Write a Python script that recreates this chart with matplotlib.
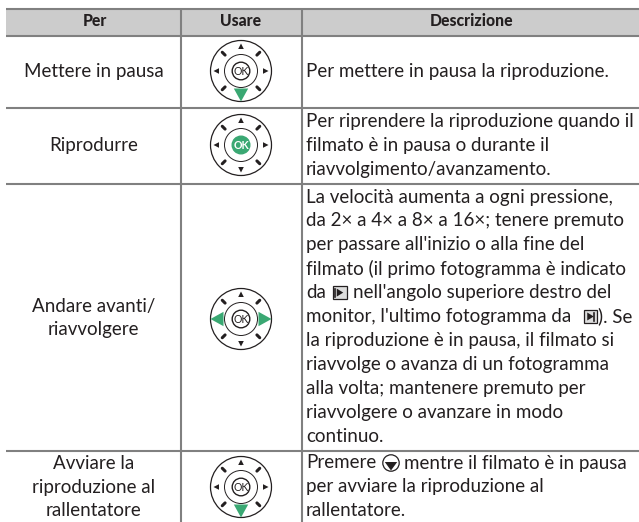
import matplotlib
matplotlib.use("Agg")
import matplotlib.pyplot as plt
from matplotlib.patches import Circle, Polygon, Rectangle
import numpy as np

plt.rcParams['font.family'] = ['Lato', 'DejaVu Sans']

W, H = 639, 522
INK = '#231f20'
GREEN = '#3aa873'
GRID = '#808080'

headers = ['Per', 'Usare', 'Descrizione']
# text of first column, one entry per row, already broken in lines
actions = ['Mettere in pausa', 'Riprodurre', 'Andare avanti/\nriavvolgere',
           'Avviare la\nriproduzione al\nrallentatore']
# which part of the dial is green
highlights = [['down'], ['ok'], ['left', 'right'], ['down']]
desc_row1 = ['Per mettere in pausa la riproduzione.']
desc_row2 = ['Per riprendere la riproduzione quando il',
             'filmato è in pausa o durante il',
             'riavvolgimento/avanzamento.']
desc_row3 = ['La velocità aumenta a ogni pressione,',
             'da 2× a 4× a 8× a 16×; tenere premuto',
             "per passare all'inizio o alla fine del",
             'filmato (il primo fotogramma è indicato',
             None,
             None,
             'la riproduzione è in pausa, il filmato si',
             'riavvolge o avanza di un fotogramma',
             'alla volta; mantenere premuto per',
             'riavvolgere o avanzare in modo',
             'continuo.']
desc_row4 = [None,
             'per avviare la riproduzione al',
             'rallentatore.']
descriptions = [desc_row1, desc_row2, desc_row3, desc_row4]

# layout, in pixels of the picture
row_lines = [8.5, 35.5, 107.7, 184, 450.6]
col_lines = [181, 301.7]
left, right = 6, 639
dial_y = [71, 145, 319, 487]
dial_x = 241
first_line_y = [71.5, 121.5, 197, 463]
line_step = 23.9
FS = 13.5

fig = plt.figure(figsize=(W / 100, H / 100), dpi=100)
ax = fig.add_axes([0, 0, 1, 1])
ax.set_xlim(0, W)
ax.set_ylim(H, 0)
ax.axis('off')


def triangle(cx, cy, direction, near, far, half, color):
    # triangle pointing away from the dial centre
    dx, dy = {'up': (0, -1), 'down': (0, 1), 'left': (-1, 0), 'right': (1, 0)}[direction]
    px, py = -dy, dx
    pts = [(cx + dx * near + px * half, cy + dy * near + py * half),
           (cx + dx * near - px * half, cy + dy * near - py * half),
           (cx + dx * far, cy + dy * far)]
    ax.add_patch(Polygon(pts, closed=True, fc=color, ec='none', zorder=4))


def dial(cx, cy, green):
    ax.add_patch(Circle((cx, cy), 30.5, fc='white', ec=INK, lw=0.9, zorder=3))
    ax.add_patch(Circle((cx, cy), 16.5, fc='white', ec=INK, lw=0.7, zorder=3))
    ok_green = 'ok' in green
    ax.add_patch(Circle((cx, cy), 8.8, fc=GREEN if ok_green else 'white',
                        ec=GREEN if ok_green else INK, lw=1.0, zorder=4))
    ax.text(cx, cy + 0.3, 'OK', ha='center', va='center', fontsize=7.6,
            fontweight='bold' if ok_green else 'normal',
            color='white' if ok_green else INK, zorder=5)
    for d in ['up', 'down', 'left', 'right']:
        if d in green:
            triangle(cx, cy, d, 17.5, 30.5, 7.2, GREEN)
        else:
            triangle(cx, cy, d, 22, 27.5, 2.8, INK)
    for a in [45, 135, 225, 315]:
        c, s = np.cos(np.radians(a)), np.sin(np.radians(a))
        ax.plot([cx + c * 22.5, cx + c * 26.5], [cy + s * 22.5, cy + s * 26.5],
                color=INK, lw=2.2, solid_capstyle='round', zorder=4)


def small_box(x0, x1, cy, kind):
    # the little play / skip symbols inside the text
    ax.add_patch(Rectangle((x0, cy - 6.5), x1 - x0, 13, fc='#dddddd', ec=INK, lw=0.9, zorder=4))
    mid = (x0 + x1) / 2
    pts = [(mid - 3, cy - 4), (mid - 3, cy + 4), (mid + 3.5, cy)]
    ax.add_patch(Polygon(pts, fc=INK, ec='none', zorder=5))
    if kind == 'bar':
        ax.plot([mid + 4, mid + 4], [cy - 4, cy + 4], color=INK, lw=1.2, zorder=5)
    else:
        ax.plot([mid - 4.5, mid - 4.5], [cy - 4, cy + 4], color=INK, lw=1.2, zorder=5)


# header band and grid
ax.add_patch(Rectangle((left, row_lines[0]), right - left, row_lines[1] - row_lines[0],
                       fc='#cccccc', ec='none', zorder=0))
for y in row_lines:
    ax.plot([left, right], [y, y], color=GRID, lw=1.5, solid_capstyle='butt', zorder=1)
for x in col_lines:
    ax.plot([x, x], [row_lines[0], H], color=GRID, lw=1.5, solid_capstyle='butt', zorder=1)

# header
header_x = [(left + col_lines[0]) / 2 + 1, dial_x, 471.5]
for x, t in zip(header_x, headers):
    ax.text(x, 21.5, t, ha='center', va='center', fontsize=11.3, fontweight='black', color=INK)

# first column
centers = [71.5, 145, 318, 487]
for y, t in zip(centers, actions):
    ax.text(93.5, y, t, ha='center', va='center', fontsize=FS, color=INK, linespacing=1.48)

# dials
for y, g in zip(dial_y, highlights):
    dial(dial_x, y, g)

# description lines
for y0, lines in zip(first_line_y, descriptions):
    for i, t in enumerate(lines):
        if t is not None:
            ax.text(306, y0 + i * line_step, t, ha='left', va='center', fontsize=FS, color=INK)

# lines with a symbol inside
y5 = first_line_y[2] + 4 * line_step
ax.text(306, y5, 'da', ha='left', va='center', fontsize=FS, color=INK)
small_box(332.5, 347, y5, 'first')
ax.text(353, y5, "nell'angolo superiore destro del", ha='left', va='center', fontsize=FS, color=INK)
y6 = first_line_y[2] + 5 * line_step
ax.text(306, y6, "monitor, l'ultimo fotogramma da", ha='left', va='center', fontsize=FS, color=INK)
small_box(583.5, 597, y6, 'bar')
ax.text(598.5, y6, '). Se', ha='left', va='center', fontsize=FS, color=INK)
y7 = first_line_y[3]
ax.text(306, y7, 'Premere', ha='left', va='center', fontsize=FS, color=INK)
ax.add_patch(Circle((391, y7), 8.2, fc='white', ec=INK, lw=0.9, zorder=4))
triangle(391, y7, 'down', -1, 7.5, 6.2, INK)
ax.text(404, y7, 'mentre il filmato è in pausa', ha='left', va='center', fontsize=FS, color=INK)

fig.savefig('out.png', dpi=100)
